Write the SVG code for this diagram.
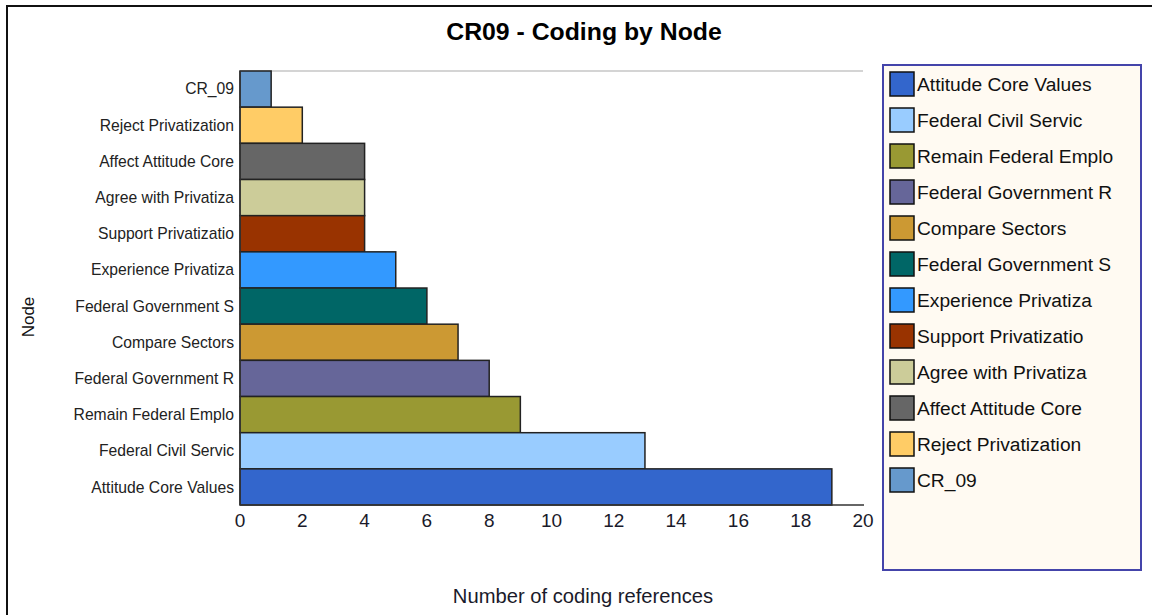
<svg xmlns="http://www.w3.org/2000/svg" width="1152" height="615" viewBox="0 0 1152 615">
<style>
.lbl{font-family:"Liberation Sans",Arial,sans-serif;font-size:15.7px;fill:#222;text-anchor:end}
.tick{font-family:"Liberation Sans",Arial,sans-serif;font-size:19px;fill:#1a1a2a;text-anchor:middle}
.leg{font-family:"Liberation Sans",Arial,sans-serif;font-size:19.2px;fill:#111}
.bar{stroke:#222;stroke-width:1.5}
.sw{stroke:#111;stroke-width:1.5}
.axis{stroke:#333;stroke-width:1.5;fill:none}
</style>
<rect x="0" y="0" width="1152" height="615" fill="#fff"/>
<rect x="7" y="6" width="1170" height="640" fill="none" stroke="#111" stroke-width="2"/>
<text x="584" y="40" font-family="'Liberation Sans',Arial,sans-serif" font-size="24.8" font-weight="bold" fill="#000" text-anchor="middle">CR09 - Coding by Node</text>
<line x1="240" y1="71" x2="863" y2="71" stroke="#d4d4d4" stroke-width="2"/>
<g id="bars">
<g id="n-cr09"><rect class="bar" x="240" y="71" width="31.15" height="36.17" fill="#6699CC"/><text class="lbl" x="234" y="94">CR_09</text></g>
<g id="n-reject"><rect class="bar" x="240" y="107.17" width="62.3" height="36.17" fill="#FFCC66"/><text class="lbl" x="234" y="131">Reject Privatization</text></g>
<g id="n-affect"><rect class="bar" x="240" y="143.34" width="124.6" height="36.17" fill="#666666"/><text class="lbl" x="234" y="167">Affect Attitude Core</text></g>
<g id="n-agree"><rect class="bar" x="240" y="179.51" width="124.6" height="36.17" fill="#CCCC99"/><text class="lbl" x="234" y="203">Agree with Privatiza</text></g>
<g id="n-support"><rect class="bar" x="240" y="215.68" width="124.6" height="36.17" fill="#993300"/><text class="lbl" x="234" y="239">Support Privatizatio</text></g>
<g id="n-experience"><rect class="bar" x="240" y="251.85" width="155.75" height="36.17" fill="#3399FF"/><text class="lbl" x="234" y="275">Experience Privatiza</text></g>
<g id="n-fedgovs"><rect class="bar" x="240" y="288.02" width="186.9" height="36.17" fill="#006666"/><text class="lbl" x="234" y="312">Federal Government S</text></g>
<g id="n-compare"><rect class="bar" x="240" y="324.19" width="218.05" height="36.17" fill="#CC9933"/><text class="lbl" x="234" y="348">Compare Sectors</text></g>
<g id="n-fedgovr"><rect class="bar" x="240" y="360.36" width="249.2" height="36.17" fill="#666699"/><text class="lbl" x="234" y="384">Federal Government R</text></g>
<g id="n-remain"><rect class="bar" x="240" y="396.53" width="280.35" height="36.17" fill="#999933"/><text class="lbl" x="234" y="420">Remain Federal Emplo</text></g>
<g id="n-civil"><rect class="bar" x="240" y="432.7" width="404.95" height="36.17" fill="#99CCFF"/><text class="lbl" x="234" y="456">Federal Civil Servic</text></g>
<g id="n-attitude"><rect class="bar" x="240" y="468.87" width="591.85" height="36.17" fill="#3366CC"/><text class="lbl" x="234" y="493">Attitude Core Values</text></g>
</g>
<g id="connectors">
<line class="axis" x1="240" y1="71" x2="240" y2="505"/>
<line class="axis" x1="240" y1="505" x2="864" y2="505"/>
</g>
<g id="ticks">
<text class="tick" x="240" y="527">0</text>
<text class="tick" x="302.3" y="527">2</text>
<text class="tick" x="364.6" y="527">4</text>
<text class="tick" x="426.9" y="527">6</text>
<text class="tick" x="489.2" y="527">8</text>
<text class="tick" x="551.5" y="527">10</text>
<text class="tick" x="613.8" y="527">12</text>
<text class="tick" x="676.1" y="527">14</text>
<text class="tick" x="738.4" y="527">16</text>
<text class="tick" x="800.7" y="527">18</text>
<text class="tick" x="863" y="527">20</text>
</g>
<text x="583" y="603" font-family="'Liberation Sans',Arial,sans-serif" font-size="20.2" fill="#1a1a2a" text-anchor="middle">Number of coding references</text>
<text transform="translate(34,317) rotate(-90)" font-family="'Liberation Sans',Arial,sans-serif" font-size="17" fill="#111" text-anchor="middle">Node</text>
<g id="legend">
<rect x="883" y="65" width="258" height="505" fill="#FFFAF2" stroke="#4444AA" stroke-width="2"/>
<g id="lg1"><rect class="sw" x="890" y="72" width="24" height="24" fill="#3366CC"/><text class="leg" x="917" y="91">Attitude Core Values</text></g>
<g id="lg2"><rect class="sw" x="890" y="108" width="24" height="24" fill="#99CCFF"/><text class="leg" x="917" y="127">Federal Civil Servic</text></g>
<g id="lg3"><rect class="sw" x="890" y="144" width="24" height="24" fill="#999933"/><text class="leg" x="917" y="163">Remain Federal Emplo</text></g>
<g id="lg4"><rect class="sw" x="890" y="180" width="24" height="24" fill="#666699"/><text class="leg" x="917" y="199">Federal Government R</text></g>
<g id="lg5"><rect class="sw" x="890" y="216" width="24" height="24" fill="#CC9933"/><text class="leg" x="917" y="235">Compare Sectors</text></g>
<g id="lg6"><rect class="sw" x="890" y="252" width="24" height="24" fill="#006666"/><text class="leg" x="917" y="271">Federal Government S</text></g>
<g id="lg7"><rect class="sw" x="890" y="288" width="24" height="24" fill="#3399FF"/><text class="leg" x="917" y="307">Experience Privatiza</text></g>
<g id="lg8"><rect class="sw" x="890" y="324" width="24" height="24" fill="#993300"/><text class="leg" x="917" y="343">Support Privatizatio</text></g>
<g id="lg9"><rect class="sw" x="890" y="360" width="24" height="24" fill="#CCCC99"/><text class="leg" x="917" y="379">Agree with Privatiza</text></g>
<g id="lg10"><rect class="sw" x="890" y="396" width="24" height="24" fill="#666666"/><text class="leg" x="917" y="415">Affect Attitude Core</text></g>
<g id="lg11"><rect class="sw" x="890" y="432" width="24" height="24" fill="#FFCC66"/><text class="leg" x="917" y="451">Reject Privatization</text></g>
<g id="lg12"><rect class="sw" x="890" y="468" width="24" height="24" fill="#6699CC"/><text class="leg" x="917" y="487">CR_09</text></g>
</g>
</svg>
